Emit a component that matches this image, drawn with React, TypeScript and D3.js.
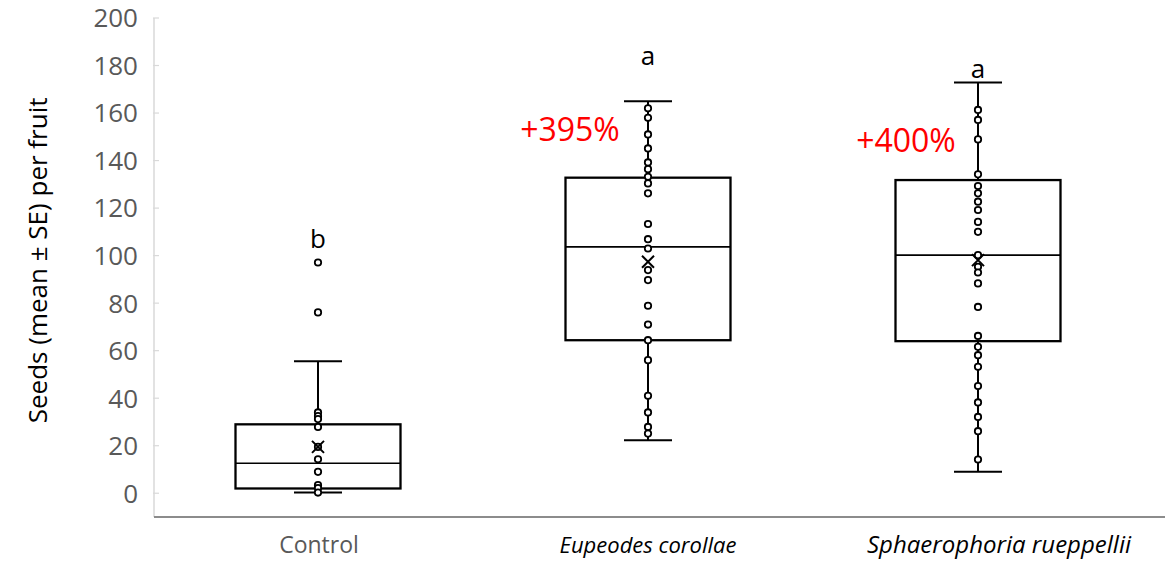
import React from 'react';
import * as d3 from 'd3';

const categories = ['Control', 'Eupeodes corollae', 'Sphaerophoria rueppellii'];
const italicLabel = [false, true, true];

// box stats: [whiskerLow, q1, median, q3, whiskerHigh]
const boxStats = [
  [0.3, 2, 12.6, 29, 55.5],
  [22.3, 64.4, 103.7, 132.8, 165],
  [9, 64, 100.2, 131.8, 172.9],
];
const means = [19.5, 97.4, 98.1];

const controlPoints = [97.1, 76.1, 34.0, 32.5, 31.2, 27.9, 19.5, 14.3, 9.0, 3.4, 2.2, 0.3];
const eupeodesPoints = [
  162.0, 158.0, 151.0, 145.1, 139.2, 136.4, 133.2, 130.4, 126.2, 113.3, 106.9, 103.0,
  93.9, 89.7, 78.9, 71.0, 64.4, 56.0, 41.0, 34.0, 27.9, 25.1,
];
const sphaeroPoints = [
  161.3, 157.1, 148.9, 134.2, 129.3, 126.2, 122.7, 119.2, 114.2, 110.0, 100.2, 95.3,
  92.9, 88.3, 78.4, 66.2, 61.6, 58.1, 53.2, 45.1, 38.2, 32.1, 26.1, 14.2,
];
const points = [controlPoints, eupeodesPoints, sphaeroPoints];

const letters = ['b', 'a', 'a'];
const letterValues = [107, 184, 178.5];
const increases = ['', '+395%', '+400%'];
const increaseValues = [0, 153, 148.5];

const yTicks = [0, 20, 40, 60, 80, 100, 120, 140, 160, 180, 200];

const width = 1171;
const height = 563;

export default function App() {
  const x = d3.scaleBand().domain(categories).range([153, 1143]).padding(0);
  const y = d3.scaleLinear().domain([-10, 200]).range([517, 18]);
  const bw = x.bandwidth();
  const boxW = bw * 0.5;
  const capW = 48;
  const font = "'Open Sans', sans-serif";
  const labelShift = [1, 0, 21];
  const labelSize = [23, 22, 24];
  const pctX = [0, -78, -72];

  return (
    <svg width={width} height={height} style={{ position: 'absolute', left: 0, top: 0 }}>
      <rect width={width} height={height} fill="#fff" />
      {/* y axis */}
      <line x1={154} x2={154} y1={y(200)} y2={517} stroke="#d9d9d9" strokeWidth={1.5} />
      {yTicks.map((t) => (
        <g key={t}>
          <line x1={153} x2={159} y1={y(t)} y2={y(t)} stroke="#d9d9d9" strokeWidth={1.2} />
          <text
            x={138}
            y={y(t)}
            dy="0.36em"
            textAnchor="end"
            fontFamily={font}
            fontSize={26}
            fill="#595959"
          >
            {t}
          </text>
        </g>
      ))}
      <text
        transform={`translate(47,${y(98)}) rotate(-90)`}
        textAnchor="middle"
        fontFamily={font}
        fontSize={26}
        fill="#000"
      >
        Seeds (mean ± SE) per fruit
      </text>
      {/* x axis */}
      <line x1={154} x2={1165} y1={517} y2={517} stroke="#8c8c8c" strokeWidth={2} />
      {categories.map((c, i) => (
        <text
          key={c}
          x={(x(c) as number) + bw / 2 + labelShift[i]}
          y={553}
          textAnchor="middle"
          fontFamily={font}
          fontSize={labelSize[i]}
          fontStyle={italicLabel[i] ? 'italic' : 'normal'}
          fill={italicLabel[i] ? '#000' : '#595959'}
        >
          {c}
        </text>
      ))}
      {categories.map((c, i) => {
        const cx = (x(c) as number) + bw / 2;
        const [lo, q1, med, q3, hi] = boxStats[i];
        return (
          <g key={c}>
            <line x1={cx} x2={cx} y1={y(hi)} y2={y(lo)} stroke="#000" strokeWidth={2} />
            <line x1={cx - capW / 2} x2={cx + capW / 2} y1={y(hi)} y2={y(hi)} stroke="#000" strokeWidth={2} />
            <line x1={cx - capW / 2} x2={cx + capW / 2} y1={y(lo)} y2={y(lo)} stroke="#000" strokeWidth={2} />
            <rect
              x={cx - boxW / 2}
              y={y(q3)}
              width={boxW}
              height={y(q1) - y(q3)}
              fill="#fff"
              stroke="#000"
              strokeWidth={2.3}
            />
            <line x1={cx - boxW / 2} x2={cx + boxW / 2} y1={y(med)} y2={y(med)} stroke="#000" strokeWidth={1.6} />
            {points[i].map((p, k) => (
              <circle key={k} cx={cx} cy={y(p)} r={3.2} fill="#fff" stroke="#000" strokeWidth={1.8} />
            ))}
            <path
              d={`M${cx - 6},${y(means[i]) - 6}L${cx + 6},${y(means[i]) + 6}M${cx + 6},${y(means[i]) - 6}L${cx - 6},${y(means[i]) + 6}`}
              stroke="#000"
              strokeWidth={2}
            />
            <text
              x={cx}
              y={y(letterValues[i])}
              dy="0.36em"
              textAnchor="middle"
              fontFamily={font}
              fontSize={26}
              fill="#000"
            >
              {letters[i]}
            </text>
            {increases[i] && (
              <text
                x={cx + pctX[i]}
                y={y(increaseValues[i])}
                dy="0.36em"
                textAnchor="middle"
                fontFamily={font}
                fontSize={32}
                fill="#ff0000"
              >
                {increases[i]}
              </text>
            )}
          </g>
        );
      })}
    </svg>
  );
}
